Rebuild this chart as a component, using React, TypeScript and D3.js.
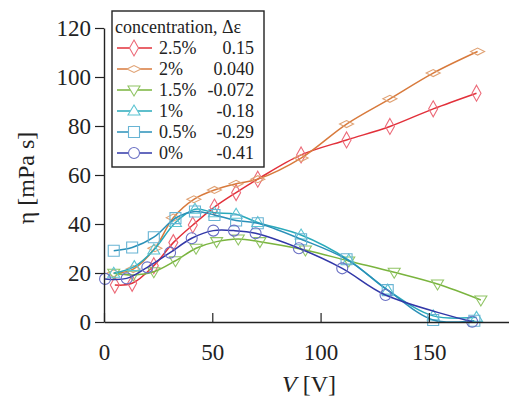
import { useEffect, useRef } from "react"
import * as d3 from "d3"

// series: concentration labels, dielectric anisotropy, V and eta values
const labels = ["2.5%", "2%", "1.5%", "1%", "0.5%", "0%"]
const deltaEps = ["0.15", "0.040", "-0.072", "-0.18", "-0.29", "-0.41"]
const symbols = ["diamondV", "diamondH", "triDown", "triUp", "square", "circle"]
const lineColors = ["#e2303a", "#d87a3c", "#7ab43e", "#2aaabb", "#2a90b8", "#3238a8"]
const markColors = ["#ec6a78", "#e0a274", "#90c464", "#5cc4d2", "#68b4d4", "#6a70c4"]

const v25 = [5, 13, 23, 32, 41, 51, 61, 71, 91, 112, 132, 152, 172]
const eta25 = [15.1, 15.8, 23, 32.4, 39.6, 46.9, 52.8, 58.3, 68.2, 74.3, 79.8, 87, 93.4]
const v2 = [4.5, 13.5, 23.5, 32, 41.5, 51, 61, 71, 91, 112, 132, 152, 172.5]
const eta2 = [19.9, 21.6, 30.1, 42.6, 50.1, 53.9, 56.4, 58.3, 66.9, 80.8, 91.1, 101.6, 110.4]
const v15 = [4.5, 13.5, 23, 33, 42.5, 52, 62, 72, 93, 113, 134, 154, 174]
const eta15 = [19.9, 19.2, 20.5, 25, 30.1, 32.8, 33.9, 32.8, 29.4, 24.9, 20.3, 15.5, 9]
const v1 = [4.5, 14, 23, 33, 42, 51, 61, 71, 91, 113, 131, 152, 172]
const eta1 = [19.9, 22.6, 29.4, 40.6, 46, 44.6, 44, 40.6, 35.5, 25.3, 13, 2.5, 1.9]
const v05 = [4.5, 13, 23, 33, 42, 51, 61, 71, 91, 112, 131, 152, 171]
const eta05 = [29.1, 30.4, 34.6, 42.4, 45.1, 43.7, 41.4, 40.3, 33.8, 25.6, 13, 0.8, 0.5]
const v0 = [0.5, 10.5, 20, 30.5, 40.5, 50.5, 60, 70, 90, 110, 130, 170]
const eta0 = [17.6, 17.8, 22.3, 28.3, 34.2, 37.3, 37.3, 36.2, 30.1, 21.9, 11, 0.1]

const xs = [v25, v2, v15, v1, v05, v0]
const ys = [eta25, eta2, eta15, eta1, eta05, eta0]

const xTicks = [0, 50, 100, 150]
const yTicks = [0, 20, 40, 60, 80, 100, 120]

const W = 509
const H = 396
const FONT = "Liberation Serif, Times New Roman, DejaVu Serif, serif"

function markerPath(sym: string) {
  switch (sym) {
    case "diamondV":
      return "M0,-8L4.5,0L0,8L-4.5,0Z"
    case "diamondH":
      return "M-7,0L0,-3.5L7,0L0,3.5Z"
    case "triDown":
      return "M-6,-4L6,-4L0,6Z"
    case "triUp":
      return "M-6,4L6,4L0,-6Z"
    case "square":
      return "M-5.5,-5.5H5.5V5.5H-5.5Z"
    default:
      return d3.symbol(d3.symbolCircle, 95)() as string
  }
}

export default function App() {
  const svgRef = useRef<SVGSVGElement | null>(null)

  useEffect(() => {
    if (!svgRef.current) return
    const svg = d3.select(svgRef.current)
    svg.selectAll("*").remove()

    const x = d3.scaleLinear().domain([0, 187]).range([104, 509])
    const y = d3.scaleLinear().domain([0, 120]).range([322, 28])

    svg.append("rect").attr("width", W).attr("height", H).attr("fill", "white")

    // lines + markers
    const line = d3
      .line<[number, number]>()
      .x((d) => x(d[0]))
      .y((d) => y(d[1]))
      .curve(d3.curveCatmullRom.alpha(0.5))

    xs.forEach((vs, i) => {
      const pts = vs.map((v, j) => [v, ys[i][j]] as [number, number])
      svg
        .append("path")
        .datum(pts)
        .attr("d", line)
        .attr("fill", "none")
        .attr("stroke", lineColors[i])
        .attr("stroke-width", 1.5)
      svg
        .selectAll(null)
        .data(pts)
        .enter()
        .append("path")
        .attr("d", markerPath(symbols[i]))
        .attr("transform", (d) => `translate(${x(d[0])},${y(d[1])})`)
        .attr("fill", "none")
        .attr("stroke", markColors[i])
        .attr("stroke-width", 1.1)
    })

    // axes
    const xAxis = svg
      .append("g")
      .attr("transform", `translate(0,${y(0)})`)
      .call(d3.axisBottom(x).tickValues(xTicks).tickSizeInner(-9).tickSizeOuter(0).tickPadding(22))
    xAxis.select(".domain").attr("stroke", "#222").attr("stroke-width", 1.4)
    xAxis.selectAll(".tick line").attr("stroke", "#222").attr("stroke-width", 1.2)
    xAxis
      .selectAll(".tick text")
      .style("font-family", FONT)
      .style("font-size", "23px")
      .attr("fill", "#222")

    const yAxis = svg
      .append("g")
      .attr("transform", `translate(${x(0)},0)`)
      .call(d3.axisLeft(y).tickValues(yTicks).tickSizeInner(9).tickSizeOuter(0).tickPadding(4))
    yAxis.select(".domain").attr("stroke", "#222").attr("stroke-width", 1.4)
    yAxis.selectAll(".tick line").attr("stroke", "#222").attr("stroke-width", 1.2)
    yAxis
      .selectAll(".tick text")
      .style("font-family", FONT)
      .style("font-size", "23px")
      .attr("fill", "#222")

    // axis titles
    const xt = svg
      .append("text")
      .attr("x", 309)
      .attr("y", 392)
      .attr("text-anchor", "middle")
      .style("font-family", FONT)
      .style("font-size", "24px")
      .attr("fill", "#222")
    xt.append("tspan").attr("font-style", "italic").text("V")
    xt.append("tspan").text(" [V]")

    svg
      .append("text")
      .attr("transform", "translate(34,178) rotate(-90)")
      .attr("text-anchor", "middle")
      .style("font-family", FONT)
      .style("font-size", "24px")
      .attr("fill", "#222")
      .text("η [mPa s]")

    // legend
    const lg = svg.append("g")
    lg.append("rect")
      .attr("x", 112)
      .attr("y", 11)
      .attr("width", 152)
      .attr("height", 156)
      .attr("fill", "white")
      .attr("stroke", "#222")
      .attr("stroke-width", 1.4)
    lg.append("text")
      .attr("x", 115)
      .attr("y", 33)
      .style("font-family", FONT)
      .style("font-size", "18px")
      .attr("fill", "#222")
      .text("concentration, Δε")

    labels.forEach((lab, i) => {
      const cy = 48 + i * 21
      lg.append("line")
        .attr("x1", 117)
        .attr("x2", 152)
        .attr("y1", cy)
        .attr("y2", cy)
        .attr("stroke", lineColors[i])
        .attr("stroke-width", 1.5)
      lg.append("path")
        .attr("d", markerPath(symbols[i]))
        .attr("transform", `translate(134,${cy})`)
        .attr("fill", "white")
        .attr("stroke", markColors[i])
        .attr("stroke-width", 1.1)
      lg.append("text")
        .attr("x", 159)
        .attr("y", cy + 6)
        .style("font-family", FONT)
        .style("font-size", "18px")
        .attr("fill", "#222")
        .text(lab)
      lg.append("text")
        .attr("x", 254)
        .attr("y", cy + 6)
        .attr("text-anchor", "end")
        .style("font-family", FONT)
        .style("font-size", "18px")
        .attr("fill", "#222")
        .text(deltaEps[i])
    })
  }, [])

  return (
    <svg
      ref={svgRef}
      width={W}
      height={H}
      style={{ position: "absolute", left: 0, top: 0, display: "block" }}
    />
  )
}
